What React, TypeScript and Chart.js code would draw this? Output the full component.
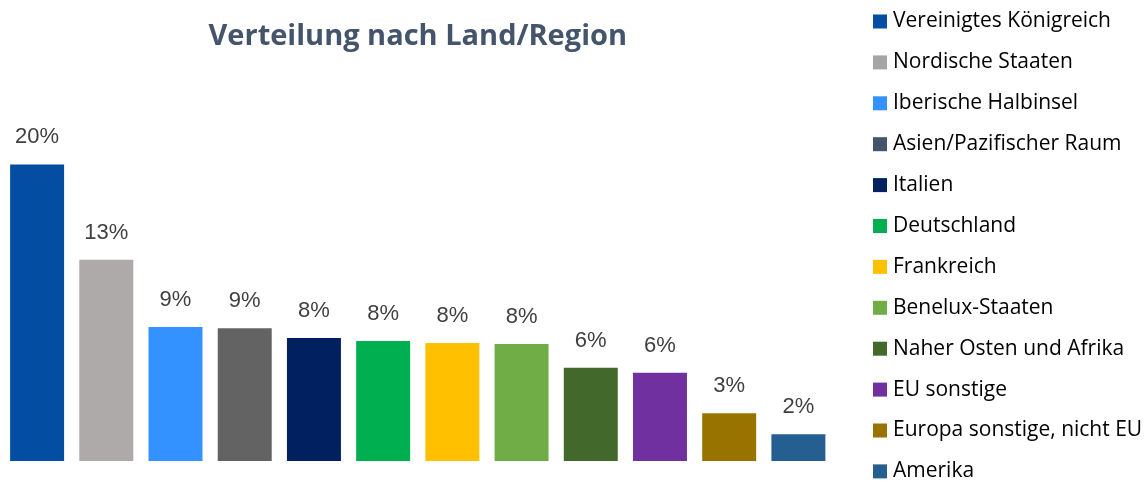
import React, { useEffect, useRef } from "react";
import { Chart, registerables } from "chart.js";

Chart.register(...registerables);

const categories = [
  "Vereinigtes Königreich",
  "Nordische Staaten",
  "Iberische Halbinsel",
  "Asien/Pazifischer Raum",
  "Italien",
  "Deutschland",
  "Frankreich",
  "Benelux-Staaten",
  "Naher Osten und Afrika",
  "EU sonstige",
  "Europa sonstige, nicht EU",
  "Amerika",
];

const values = [19.6, 13.3, 8.85, 8.78, 8.13, 7.93, 7.8, 7.73, 6.16, 5.83, 3.15, 1.77];

const barColors = [
  "#034EA2", "#AEAAAA", "#3392FF", "#636363", "#002060", "#00B050",
  "#FFC000", "#70AD47", "#43682B", "#7030A0", "#997300", "#255E91",
];

const legendColors = [
  "#034EA2", "#A5A5A5", "#3392FF", "#44546A", "#002060", "#00B050",
  "#FFC000", "#70AD47", "#43682B", "#7030A0", "#997300", "#255E91",
];

const titleText = "Verteilung nach Land/Region";

const valueLabelPlugin = {
  id: "valueLabels",
  afterDatasetsDraw(chart: any) {
    const ctx = chart.ctx;
    const meta = chart.getDatasetMeta(0);
    ctx.save();
    ctx.font = "22px 'Liberation Sans', Arial, sans-serif";
    ctx.fillStyle = "#404040";
    ctx.textAlign = "center";
    ctx.textBaseline = "middle";
    meta.data.forEach((bar: any, i: number) => {
      const v = chart.data.datasets[0].data[i] as number;
      ctx.fillText(Math.round(v) + "%", bar.x, bar.y - 27);
    });
    ctx.restore();
  },
};

const sideLegendPlugin = {
  id: "sideLegend",
  afterDraw(chart: any) {
    const ctx = chart.ctx;
    ctx.save();
    ctx.font = "21px 'Open Sans', sans-serif";
    ctx.textBaseline = "middle";
    ctx.textAlign = "left";
    const labels = chart.data.labels as string[];
    labels.forEach((lab: string, i: number) => {
      const cy = 21.5 + 40.9 * i;
      ctx.fillStyle = legendColors[i];
      ctx.fillRect(873, cy - 7, 14, 14);
      ctx.fillStyle = "#000000";
      ctx.fillText(lab, 893, cy);
    });
    ctx.restore();
  },
};

export default function App() {
  const ref = useRef<HTMLCanvasElement | null>(null);

  useEffect(() => {
    if (!ref.current) return;
    const chart = new Chart(ref.current, {
      type: "bar",
      data: {
        labels: categories,
        datasets: [
          {
            data: values,
            backgroundColor: barColors,
            borderWidth: 0,
            barPercentage: 0.78,
            categoryPercentage: 1,
          },
        ],
      },
      options: {
        animation: false,
        responsive: true,
        maintainAspectRatio: false,
        layout: { padding: { left: 2.5, right: 314, top: 0, bottom: 21 } },
        plugins: {
          legend: { display: false },
          tooltip: { enabled: false },
          title: {
            display: true,
            text: titleText,
            color: "#44546A",
            font: { family: "'Open Sans', sans-serif", size: 29, weight: "bold" },
            padding: { top: 19, bottom: 44 },
          },
        },
        scales: {
          x: { display: false, grid: { display: false } },
          y: { display: false, min: 0, max: 24, grid: { display: false } },
        },
      },
      plugins: [valueLabelPlugin, sideLegendPlugin],
    });
    return () => chart.destroy();
  }, []);

  return (
    <div style={{ position: "fixed", left: 0, top: 0, width: 1147, height: 482, background: "#ffffff" }}>
      <canvas ref={ref} />
    </div>
  );
}
